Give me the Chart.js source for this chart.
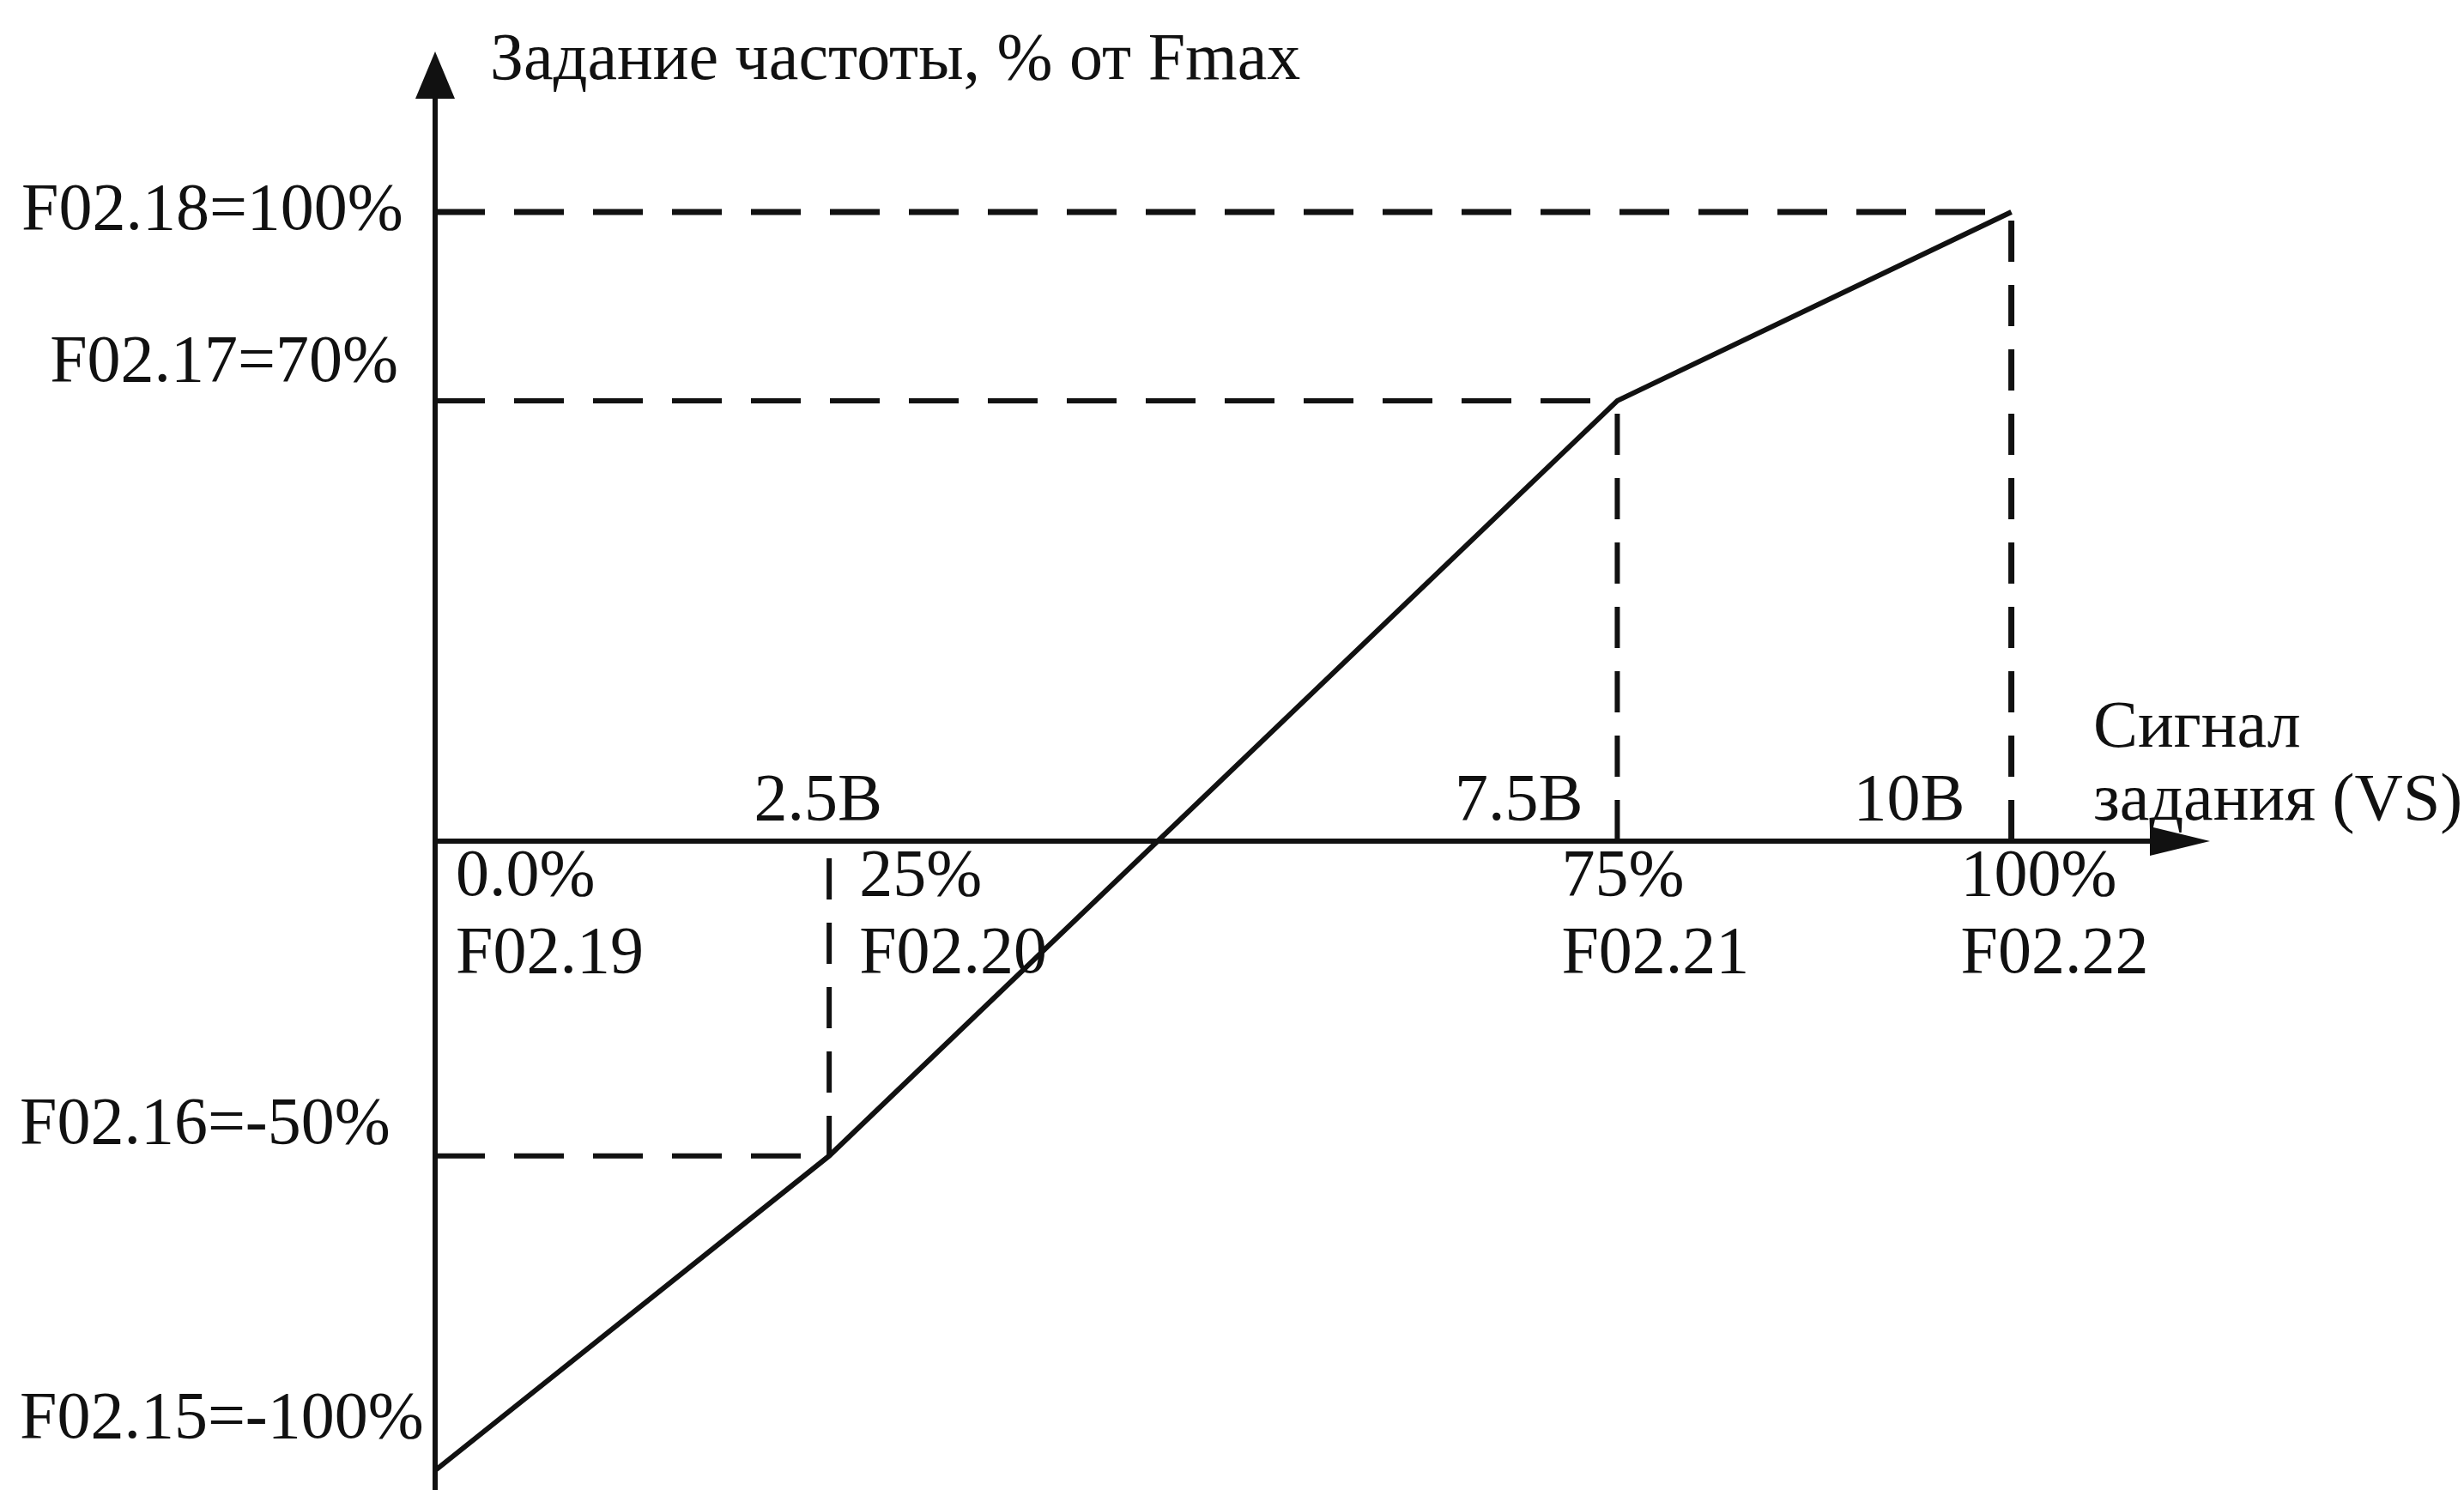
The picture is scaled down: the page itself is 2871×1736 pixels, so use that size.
<!DOCTYPE html>
<html>
<head>
<meta charset="utf-8">
<script src="https://cdn.jsdelivr.net/npm/chart.js@4.4.1/dist/chart.umd.min.js"></script>
<style>
  html, body { margin: 0; padding: 0; background: #fff; }
  #wrap { width: 2871px; height: 1736px; }
</style>
</head>
<body>
<div id="wrap"><canvas id="chart" width="2871" height="1736"></canvas></div>
<script>
// characteristic: signal (% of 10 V) -> frequency setpoint (% of Fmax)
const signalPct = [0, 25, 75, 100];
const freqPct = [-100, -50, 70, 100];

// parameter names for each break point
const signalParams = ['F02.19', 'F02.20', 'F02.21', 'F02.22'];
const signalPctLabels = ['0.0%', '25%', '75%', '100%'];
const voltLabels = ['', '2.5В', '7.5В', '10В'];
const freqLabels = ['F02.15=-100%', 'F02.16=-50%', 'F02.17=70%', 'F02.18=100%'];

const yTitle = 'Задание частоты, % от Fmax';
const xTitle = ['Сигнал', 'задания (VS)'];

const FONT = "'Liberation Serif', 'Times New Roman', serif";
const INK = '#111';

// dashed guides from each break point (except the first) to both axes
const hGuides = [];
const vGuides = [];
for (let i = 1; i < signalPct.length; i++) {
    hGuides.push([{ x: 0, y: freqPct[i] }, { x: signalPct[i], y: freqPct[i] }]);
    vGuides.push([{ x: signalPct[i], y: 0 }, { x: signalPct[i], y: freqPct[i] }]);
}

const datasets = [{
    data: signalPct.map((x, i) => ({ x: x, y: freqPct[i] })),
    borderColor: INK,
    borderWidth: 6,
    pointRadius: 0,
    tension: 0
}];
hGuides.forEach((pts, i) => datasets.push({
    data: pts,
    borderColor: INK,
    borderWidth: i === hGuides.length - 1 ? 7 : 6,
    borderDash: [58, 34],
    pointRadius: 0
}));
vGuides.forEach((pts, i) => datasets.push({
    data: pts,
    borderColor: INK,
    borderWidth: i === vGuides.length - 1 ? 7 : 6,
    borderDash: [48, 27],
    // the guide below the axis starts with a small gap
    borderDashOffset: i === 0 ? -20 : 0,
    pointRadius: 0
}));

// axes with arrowheads, crossing at zero
const axesPlugin = {
    id: 'arrowAxes',
    beforeDatasetsDraw(chart) {
        const { ctx, chartArea, scales } = chart;
        const x0 = scales.x.getPixelForValue(0);
        const y0 = scales.y.getPixelForValue(0);
        ctx.save();
        ctx.strokeStyle = INK;
        ctx.fillStyle = INK;
        ctx.lineWidth = 6;
        ctx.beginPath();
        ctx.moveTo(x0, chartArea.bottom);
        ctx.lineTo(x0, chartArea.top + 40);
        ctx.moveTo(x0, y0);
        ctx.lineTo(chartArea.right - 50, y0);
        ctx.stroke();
        // up arrow
        ctx.beginPath();
        ctx.moveTo(x0, chartArea.top);
        ctx.lineTo(x0 - 23, chartArea.top + 55);
        ctx.lineTo(x0 + 23, chartArea.top + 55);
        ctx.closePath();
        ctx.fill();
        // right arrow
        ctx.beginPath();
        ctx.moveTo(chartArea.right, y0);
        ctx.lineTo(chartArea.right - 70, y0 - 17);
        ctx.lineTo(chartArea.right - 70, y0 + 17);
        ctx.closePath();
        ctx.fill();
        ctx.restore();
    }
};

// text labels tied to the scales
const labelPlugin = {
    id: 'diagramLabels',
    afterDraw(chart) {
        const { ctx, chartArea, scales } = chart;
        const px = v => scales.x.getPixelForValue(v);
        const py = v => scales.y.getPixelForValue(v);
        const x0 = px(0);
        const y0 = py(0);
        ctx.save();
        ctx.fillStyle = INK;
        ctx.font = '78px ' + FONT;
        ctx.textBaseline = 'alphabetic';

        // y-axis title
        ctx.textAlign = 'left';
        ctx.fillText(yTitle, x0 + 64, chartArea.top + 32);

        // frequency levels on the left
        const leftPos = [
            { align: 'left', x: 23, dy: -38 },
            { align: 'left', x: 23, dy: -15 },
            { align: 'right', x: x0 - 43, dy: -23 },
            { align: 'left', x: 25, dy: 20 }
        ];
        freqLabels.forEach((t, i) => {
            ctx.textAlign = leftPos[i].align;
            ctx.fillText(t, leftPos[i].x, py(freqPct[i]) + leftPos[i].dy);
        });

        // percent and parameter labels under the x axis
        const underDx = [24, 35, -65, -59];
        ctx.textAlign = 'left';
        signalPct.forEach((v, i) => {
            ctx.fillText(signalPctLabels[i], px(v) + underDx[i], y0 + 63);
            ctx.fillText(signalParams[i], px(v) + underDx[i], y0 + 153);
        });

        // voltages above the x axis
        const overDx = [0, 62, -40, -54];
        ctx.textAlign = 'right';
        signalPct.forEach((v, i) => {
            if (voltLabels[i]) ctx.fillText(voltLabels[i], px(v) + overDx[i], y0 - 25);
        });

        // x-axis title
        ctx.textAlign = 'left';
        ctx.fillText(xTitle[0], chartArea.right - 136, y0 - 110);
        ctx.fillText(xTitle[1], chartArea.right - 136, y0 - 25);
        ctx.restore();
    }
};

new Chart(document.getElementById('chart'), {
    type: 'line',
    data: { datasets: datasets },
    options: {
        responsive: false,
        animation: false,
        layout: { padding: { left: 507, right: 296, top: 60, bottom: 0 } },
        plugins: {
            legend: { display: false },
            tooltip: { enabled: false }
        },
        scales: {
            x: { type: 'linear', display: false, min: 0, max: 112.6 },
            y: { type: 'linear', display: false, min: -103.1, max: 125.5 }
        }
    },
    plugins: [axesPlugin, labelPlugin]
});
</script>
</body>
</html>
